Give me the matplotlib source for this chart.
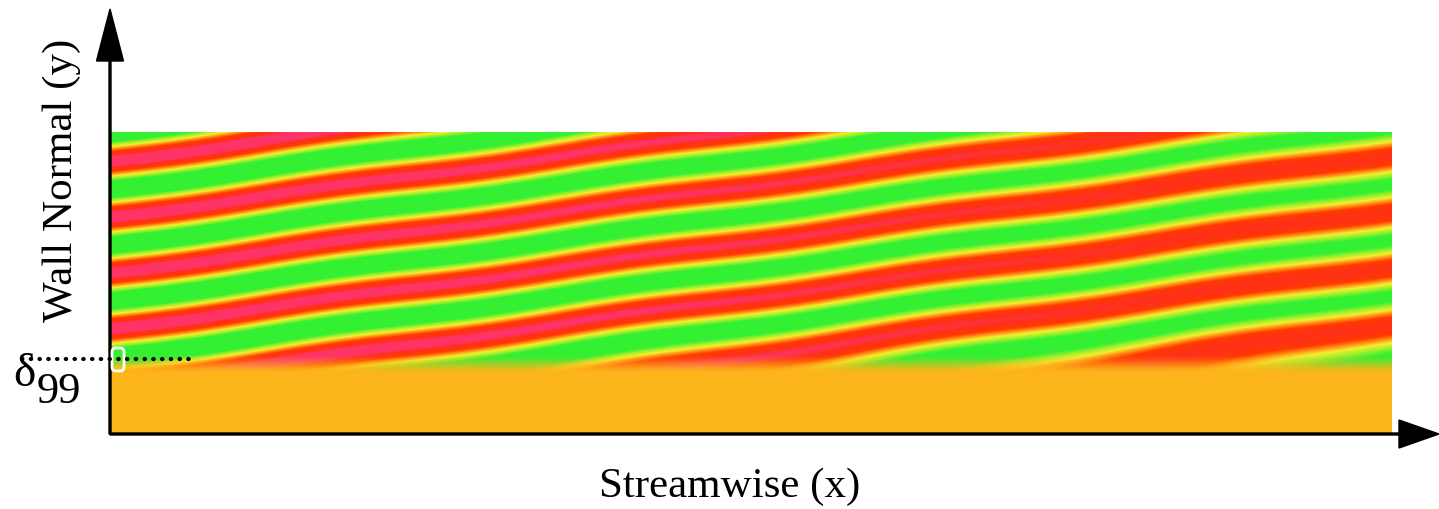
import numpy as np
import matplotlib.pyplot as plt
from matplotlib.colors import LinearSegmentedColormap, to_rgb
from matplotlib.patches import FancyBboxPatch

# domain size (units ~ pixels of the original sketch)
x_len = 1282
y_len = 302
delta99 = 75        # height of the dotted delta_99 line
layer_top = 60      # top of the orange near-wall layer

# stripe pattern
stripe_period = 56      # vertical distance between two red bands
stripe_slope = 0.136    # rise of a band per unit streamwise length
stripe_y0 = 105         # centre of a red band at the inlet
wall_flatten = 0.1      # bands lean less close to the layer
wall_scale = 20
wave_len = 300          # small waviness of the bands
wave_amp = 1.5
amp_in = 1.15           # band strength at the inlet (pink) ...
amp_out = 0.8           # ... and at the outlet (red)

cmap_vals = [-1, -0.7, -0.4, -0.1, 0.15, 0.5, 0.85, 1.0]
cmap_cols = ['#33f033', '#33f033', '#a8f02c', '#f2ef2e', '#ffa01a', '#ff3a00', '#ff3018', '#ff3366']
layer_col = '#fdb51c'

xlabel = 'Streamwise (x)'
ylabel = 'Wall Normal (y)'
serif = ['Liberation Serif', 'DejaVu Serif']

#%% field
x = np.linspace(0, x_len, x_len)
y = np.linspace(0, y_len, y_len)
X, Y = np.meshgrid(x, y)
amp = amp_in + (amp_out - amp_in) * X / x_len
lean = stripe_slope * (1 - wall_flatten * np.exp(-np.clip(Y - layer_top, 0, None) / wall_scale))
phase = 2 * np.pi * (Y - stripe_y0 - lean * X
                     + wave_amp * np.sin(2 * np.pi * X / wave_len)) / stripe_period
val = amp * np.cos(phase)

pos = (np.array(cmap_vals) + 1) / 2
cmap = LinearSegmentedColormap.from_list('bands', list(zip(pos, cmap_cols)))
rgb = cmap(np.clip((val + 1) / 2, 0, 1))[..., :3]

# blend into the near-wall layer
w = np.clip((Y - layer_top) / 20, 0, 1)
w = w * w * (3 - 2 * w)
rgb = w[..., None] * rgb + (1 - w[..., None]) * np.array(to_rgb(layer_col))

#%% figure
fig = plt.figure(figsize=(14.39, 5.10), dpi=100)
ax = fig.add_axes([110 / 1439, 75 / 510, 1282 / 1439, 302 / 510])
ax.imshow(rgb, origin='lower', extent=[0, x_len, 0, y_len], aspect='auto',
          interpolation='bilinear')
ax.set_xlim(0, x_len)
ax.set_ylim(0, y_len)
ax.axis('off')

# axis arrows
ax.arrow(0, 0, 0, 425, width=2, head_width=27, head_length=52,
         length_includes_head=True, color='black', clip_on=False)
ax.arrow(0, 0, 1329, 0, width=2, head_width=28, head_length=40,
         length_includes_head=True, color='black', clip_on=False)

# delta_99 marker
ax.plot([-88, 80], [delta99, delta99], color='black', lw=3,
        linestyle=(0, (0.1, 2)), dash_capstyle='round', clip_on=False)
ax.add_patch(FancyBboxPatch((2, delta99 - 12), 12, 23,
                            boxstyle='round,pad=0,rounding_size=4',
                            fc='none', ec='white', lw=2, clip_on=False))
ax.text(-86, 60, 'δ', family=serif, size=34, ha='center', va='center', clip_on=False)
ax.text(-51, 43, '99', family=serif, size=32, ha='center', va='center', clip_on=False)

ax.text(-48, 255, ylabel, family=serif, size=31, rotation=90,
        ha='center', va='center', clip_on=False)
ax.text(620, -52, xlabel, family=serif, size=31, ha='center', va='center',
        clip_on=False)

fig.savefig('out.png', dpi=100)
